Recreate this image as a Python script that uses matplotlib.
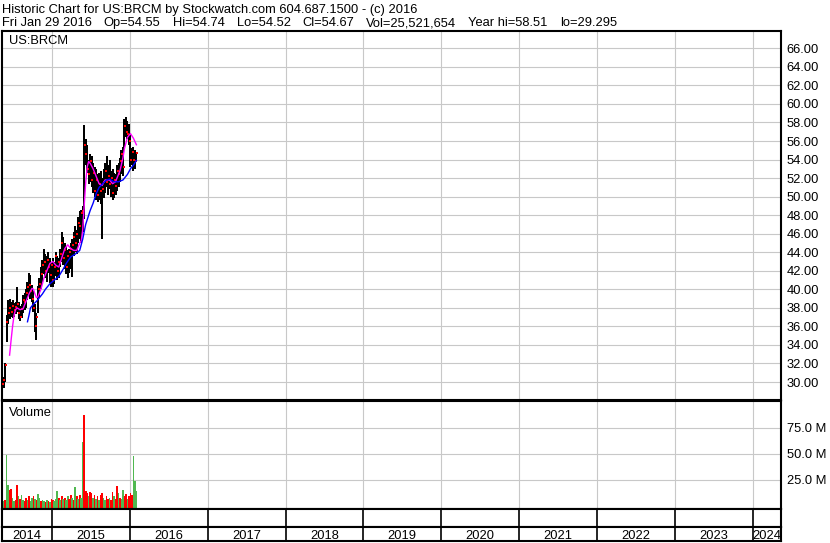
import numpy as np
import pandas as pd
import matplotlib
matplotlib.use("Agg")
import matplotlib.pyplot as plt
import matplotlib.dates as mdates

plt.rcParams['font.family'] = ['Liberation Sans', 'DejaVu Sans']
plt.rcParams['font.size'] = 9.3

# weekly bars
weeks = pd.date_range("2014-05-12", periods=91, freq="7D")

high = [30.8, 30.5, 32.0, 37.2, 38.8, 39.0, 38.6, 38.8, 38.5, 38.6,
        40.3, 38.6, 38.2, 38.4, 39.4, 39.6, 40.0, 40.8, 41.8, 41.5,
        40.5, 39.8, 38.4, 37.5, 40.4, 41.2, 42.4, 43.2, 44.3, 43.8,
        43.6, 44.0, 43.4, 43.0, 43.4, 43.0, 44.0, 43.6, 43.4, 44.4,
        46.2, 45.6, 45.0, 44.6, 44.2, 44.4, 45.0, 45.4, 46.2, 46.8,
        46.4, 47.8, 48.4, 48.6, 49.0, 57.7, 56.2, 55.6, 54.0, 54.6,
        54.4, 53.6, 53.2, 53.0, 52.4, 52.6, 52.8, 52.0, 53.0, 53.6,
        54.4, 53.4, 54.0, 52.8, 53.0, 52.6, 52.4, 53.4, 53.6, 54.2,
        55.0, 55.4, 58.4, 58.6, 58.2, 57.8, 56.6, 55.2, 55.4, 55.0,
        54.8]
low = [29.3, 29.4, 30.0, 34.3, 36.3, 36.8, 37.0, 36.9, 37.0, 37.3,
       37.6, 36.8, 36.6, 36.9, 37.4, 37.8, 38.0, 38.8, 39.4, 39.0,
       38.6, 37.6, 35.4, 34.5, 37.4, 39.2, 40.0, 40.8, 41.6, 41.2,
       40.8, 41.8, 40.7, 40.3, 40.2, 40.6, 41.4, 41.0, 41.2, 42.4,
       43.0, 42.6, 42.2, 41.6, 41.2, 41.8, 42.2, 41.3, 43.6, 44.0,
       43.8, 45.0, 45.4, 45.0, 46.2, 47.6, 53.4, 52.6, 51.4, 51.6,
       51.0, 50.4, 50.0, 49.6, 49.4, 49.6, 49.2, 45.4, 49.8, 50.4,
       51.0, 50.2, 50.8, 50.0, 49.6, 49.8, 50.2, 50.6, 51.0, 51.6,
       52.4, 52.2, 55.4, 56.4, 56.2, 55.6, 53.2, 53.4, 52.8, 53.0,
       54.0]
close = [29.8, 30.2, 31.8, 36.5, 37.5, 38.0, 37.6, 38.2, 37.8, 38.1,
         38.4, 37.4, 37.0, 37.9, 38.9, 38.6, 39.6, 40.2, 40.5, 39.8,
         39.0, 38.0, 36.0, 37.0, 40.0, 40.6, 41.6, 42.6, 43.0, 42.0,
         43.2, 42.4, 41.5, 42.6, 41.0, 42.4, 43.6, 42.0, 43.0, 43.8,
         45.0, 43.4, 44.2, 42.4, 43.6, 44.0, 44.4, 44.8, 45.6, 45.0,
         46.0, 47.2, 46.8, 48.2, 48.4, 55.6, 54.6, 53.0, 52.4, 53.8,
         51.8, 52.6, 50.6, 51.8, 50.2, 51.4, 50.6, 50.8, 51.6, 52.8,
         51.6, 52.2, 51.4, 52.0, 50.4, 51.8, 51.2, 52.8, 52.4, 53.8,
         54.6, 53.2, 57.6, 57.0, 56.8, 56.0, 54.0, 54.8, 54.0, 53.8,
         54.67]

# volume in millions, 1 = up (green), 0 = down (red)
vol = [4, 5, 6, 49, 20, 15, 16, 8, 5, 6,
       20, 9, 7, 10, 6, 5, 8, 6, 9, 5,
       8, 9, 7, 6, 11, 8, 5, 6, 5, 4,
       6, 5, 4, 7, 6, 5, 7, 14, 8, 6,
       9, 7, 8, 6, 9, 7, 10, 8, 6, 18,
       9, 7, 10, 8, 61, 87, 14, 12, 9, 13,
       12, 8, 10, 7, 9, 6, 10, 12, 8, 6,
       9, 7, 8, 6, 13, 9, 7, 19, 12, 8,
       7, 15, 9, 11, 7, 9, 12, 10, 48, 24,
       14]
vol_up = [0, 1, 0, 1, 1, 0, 0, 1, 1, 0,
          0, 1, 0, 1, 1, 0, 0, 1, 0, 1,
          1, 0, 1, 0, 1, 1, 0, 1, 1, 0,
          1, 0, 1, 0, 0, 1, 1, 1, 0, 1,
          0, 1, 0, 1, 1, 0, 0, 1, 0, 1,
          0, 1, 0, 1, 1, 0, 0, 0, 1, 0,
          0, 1, 0, 1, 0, 1, 0, 0, 1, 1,
          0, 0, 1, 0, 0, 1, 0, 0, 1, 0,
          1, 1, 0, 0, 1, 0, 0, 0, 1, 1,
          1]

# moving averages (week index, value)
fast_idx = [5, 6, 7, 8, 9, 10, 12, 14, 16, 18, 20, 21, 22, 23, 24, 26, 28, 30, 32, 34,
            36, 38, 40, 42, 44, 46, 48, 50, 52, 53, 54, 55, 56, 57, 58, 59, 61, 63, 65, 67,
            69, 72, 74, 76, 79, 81, 82, 84, 86, 88, 90]
fast_val = [32.9, 34.5, 36.0, 37.2, 37.8, 38.0, 37.8, 37.9, 38.7, 39.5, 40.1, 40.0, 39.5, 39.1, 39.2, 40.0, 41.2, 42.0, 42.8, 43.0,
            42.6, 42.4, 43.4, 44.4, 44.8, 44.4, 44.2, 44.2, 45.0, 45.2, 46.4, 49.0, 51.5, 53.2, 53.8, 53.6, 53.0, 52.2, 51.4, 51.2,
            51.8, 51.8, 51.4, 51.6, 52.8, 54.2, 55.2, 56.4, 56.8, 56.3, 55.6]
slow_idx = [17, 18, 19, 20, 21, 23, 25, 27, 29, 32, 35, 38, 41, 43, 46, 49, 52, 54, 56, 59,
            61, 63, 65, 68, 70, 72, 75, 78, 81, 84, 86, 88, 90]
slow_val = [36.5, 37.2, 38.0, 38.2, 38.4, 38.7, 39.1, 39.5, 40.0, 40.6, 41.0, 41.4, 42.2, 42.8, 43.5, 43.8, 44.2, 45.4, 47.0, 48.5,
            49.3, 50.3, 51.0, 51.5, 51.8, 51.9, 51.6, 51.6, 51.8, 52.4, 53.0, 53.4, 53.9]

years = list(range(2014, 2025))
price_ticks = list(range(30, 67, 2))
vol_ticks = [25, 50, 75]
header1 = "Historic Chart for US:BRCM by Stockwatch.com 604.687.1500 - (c) 2016"
header2 = ["Fri Jan 29 2016", "Op=54.55", "Hi=54.74", "Lo=54.52", "Cl=54.67",
           "Vol=25,521,654", "Year hi=58.51", "lo=29.295"]

W, H = 830, 543
fig = plt.figure(figsize=(W / 100, H / 100), dpi=100)


def box(x0, y0, x1, y1):
    return [x0 / W, 1 - y1 / H, (x1 - x0) / W, (y1 - y0) / H]


ax = fig.add_axes(box(2, 31, 781, 400))
axv = fig.add_axes(box(2, 401, 781, 509))
axm = fig.add_axes(box(2, 509, 781, 527))
axy = fig.add_axes(box(2, 527, 781, 541))

d2015 = mdates.date2num(np.datetime64("2015-01-01"))
px_day = 77.85 / 365.25
xlo = d2015 - 50 / px_day
xhi = d2015 + 729 / px_day
bounds = [mdates.date2num(np.datetime64(f"{y}-01-01")) for y in years[1:]]
grid_c = "#c8c8c8"

for a in (ax, axv, axm, axy):
    a.set_xlim(xlo, xhi)
    a.set_xticks([])
    for s in a.spines.values():
        s.set_color("black")
        s.set_linewidth(1.5)

# price panel
ax.set_ylim(28.06, 67.87)
ax.set_yticks(price_ticks)
ax.set_yticklabels([f"{t:.2f}" for t in price_ticks])
ax.yaxis.tick_right()
ax.tick_params(axis="y", length=0, pad=4)
ax.grid(axis="y", color=grid_c, lw=0.8, zorder=0)
for b in bounds:
    ax.axvline(b, color=grid_c, lw=0.8, zorder=0)

ax.vlines(weeks, low, high, color="black", lw=1.44, antialiased=False, zorder=2)
ax.plot(weeks + pd.Timedelta(days=3), close, "s", ms=1.5, mew=0, color="red",
        antialiased=False, zorder=3)
ax.plot(weeks[fast_idx], fast_val, color="#ff00ff", lw=1, zorder=4)
ax.plot(weeks[slow_idx], slow_val, color="#0000ff", lw=1, zorder=4)
ax.text(7 / 779, 1 - 10 / 369, "US:BRCM", transform=ax.transAxes, va="center", ha="left")

# volume panel
axv.set_ylim(-3, 100.5)
axv.set_yticks(vol_ticks)
axv.set_yticklabels([f"{t:.1f} M" for t in vol_ticks])
axv.yaxis.tick_right()
axv.tick_params(axis="y", length=0, pad=4)
axv.grid(axis="y", color=grid_c, lw=0.8, zorder=0)
for b in bounds:
    axv.axvline(b, color=grid_c, lw=0.8, zorder=0)
colors = ["#50b850" if u else "#ff0000" for u in vol_up]
axv.bar(weeks, np.array(vol) + 3, bottom=-3, width=8, color=colors, lw=0,
        antialiased=False, zorder=2)
axv.text(7 / 779, 1 - 12 / 108, "Volume", transform=axv.transAxes, va="center", ha="left")

# empty month row and year row
for a in (axm, axy):
    a.set_yticks([])
    a.set_ylim(0, 1)
    for b in bounds:
        a.axvline(b, color="black", lw=1.2)

edges = [xlo] + bounds + [xhi]
for y, e0, e1 in zip(years, edges[:-1], edges[1:]):
    axy.text((e0 + e1) / 2, 0.35, str(y), ha="center", va="center")

# header
fig.text(2 / W, 1 - 13 / H, header1, ha="left", va="baseline")
hx = 2
renderer = fig.canvas.get_renderer()
for part in header2:
    t = fig.text(hx / W, 1 - 26 / H, part, ha="left", va="baseline")
    hx += t.get_window_extent(renderer).width + 12

fig.savefig("out.png", dpi=100)
